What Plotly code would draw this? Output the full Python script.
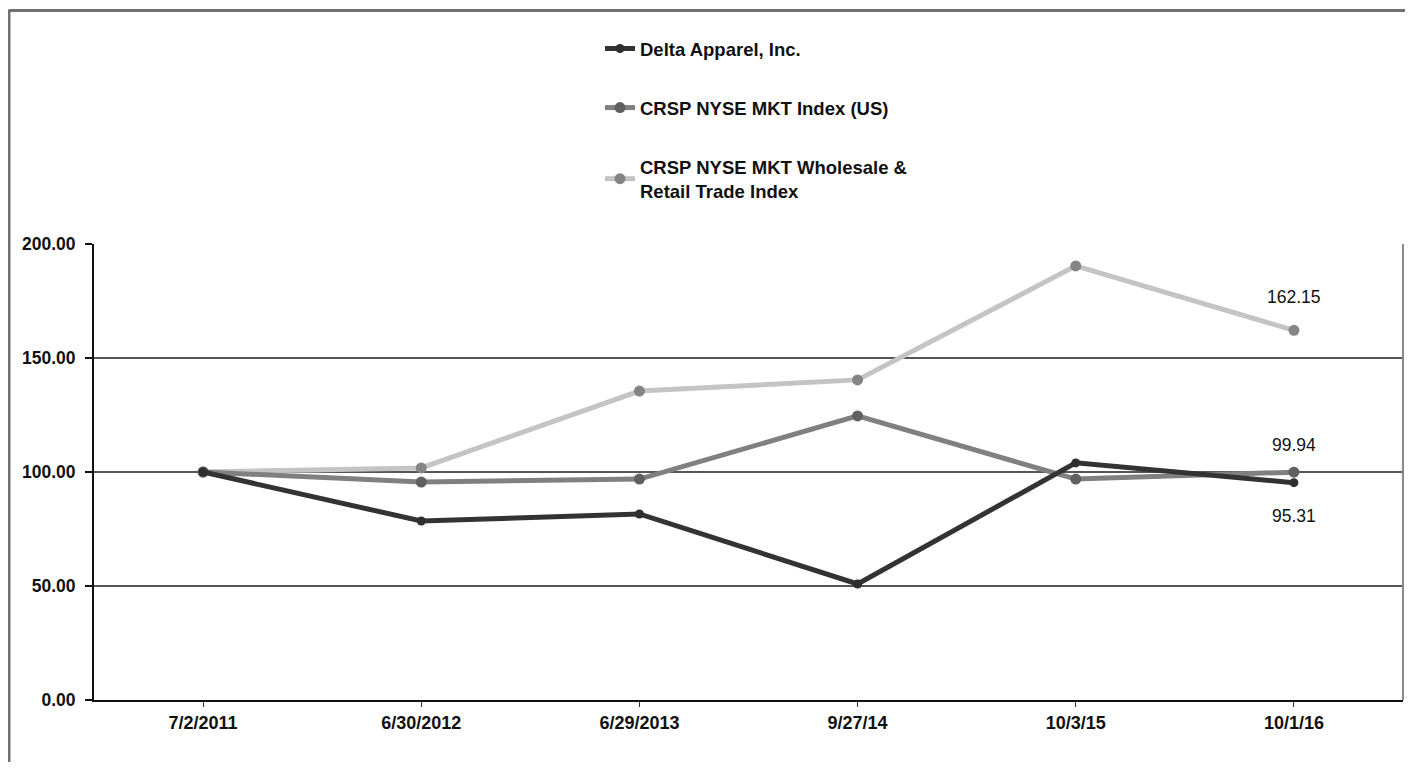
import plotly.graph_objects as go

dates = ["7/2/2011", "6/30/2012", "6/29/2013", "9/27/14", "10/3/15", "10/1/16"]
delta = [100.00, 78.5, 81.6, 50.9, 104.0, 95.31]
crsp_mkt = [100.00, 95.6, 96.9, 124.6, 96.9, 99.94]
crsp_wr = [100.00, 101.8, 135.5, 140.4, 190.4, 162.15]
names = ["Delta Apparel, Inc.", "CRSP NYSE MKT Index (US)", "CRSP NYSE MKT Wholesale &<br>Retail Trade Index"]
y_ticks = [0, 50, 100, 150, 200]

# page body has an 8px margin: work in reference pixels and convert
O = 8
W, H = 1397, 754
L, T = 94 - O, 244 - O
PB = 700 - O          # plot bottom in figure px
PR = 1403 - O         # plot right in figure px
B, R = H - PB, W - PR
pw, ph = PR - L, PB - T

def px(xr):
    return (xr - O - L) / pw

def py(yr):
    return (PB - (yr - O)) / ph

fig = go.Figure()
series = [
    (crsp_wr, names[2], "#c4c4c4", "#858585", 11),
    (crsp_mkt, names[1], "#808080", "#606060", 11),
    (delta, names[0], "#333333", "#2e2e2e", 9),
]
for i, (vals, nm, lc, mc, ms) in enumerate(series):
    fig.add_trace(go.Scatter(
        x=dates, y=vals, name=nm, mode="lines+markers",
        line=dict(color=lc, width=5),
        marker=dict(color=mc, size=ms),
        legendgroup=str(i), legendrank=3 - i,
    ))

font_lbl = dict(family="Liberation Sans, Arial", size=17.5, color="#111111")
for vals, shift in [(crsp_wr, 33), (crsp_mkt, 27), (delta, -33)]:
    fig.add_annotation(x=dates[-1], y=vals[-1], text=f"{vals[-1]:.2f}",
                       showarrow=False, yshift=shift, font=font_lbl)

shapes = []
# outer frame: top and left
shapes.append(dict(type="line", xref="paper", yref="paper", x0=px(8.5), x1=px(1420), y0=py(10.5), y1=py(10.5),
                   line=dict(color="#707070", width=3)))
shapes.append(dict(type="line", xref="paper", yref="paper", x0=px(9), x1=px(9), y0=py(10), y1=py(780),
                   line=dict(color="#707070", width=3)))
# right border of plot
shapes.append(dict(type="line", xref="paper", yref="paper", x0=1, x1=1, y0=0, y1=py(244),
                   line=dict(color="#8a8a8a", width=2)))

fig.update_layout(
    width=W, height=H,
    margin=dict(l=L, r=R, t=T, b=B),
    paper_bgcolor="white", plot_bgcolor="white",
    showlegend=True,
    legend=dict(x=px(600), y=py(30), xanchor="left", yanchor="top",
                font=dict(family="Liberation Sans, Arial", size=18.5, color="#111111", weight="bold"),
                traceorder="grouped", tracegroupgap=32, bgcolor="rgba(0,0,0,0)"),
    shapes=shapes,
    font=dict(family="Liberation Sans, Arial"),
)
fig.update_xaxes(range=[-0.5, 5.5], showgrid=False, showline=True, linecolor="#111111", linewidth=2,
                 ticks="outside", ticklen=5, tickcolor="#333333", tickwidth=1,
                 tickfont=dict(size=18, color="#111111", weight="bold"), fixedrange=True)
fig.update_yaxes(range=[0, 200], tickvals=y_ticks, tickformat=".2f", showgrid=True, gridcolor="#555555",
                 gridwidth=2, showline=True, linecolor="#111111", linewidth=2, zeroline=False,
                 ticks="outside", ticklen=7, tickcolor="#111111", tickwidth=2, ticklabelstandoff=6,
                 tickfont=dict(size=17.5, color="#111111", weight="bold"))

fig.write_html("out.html")
